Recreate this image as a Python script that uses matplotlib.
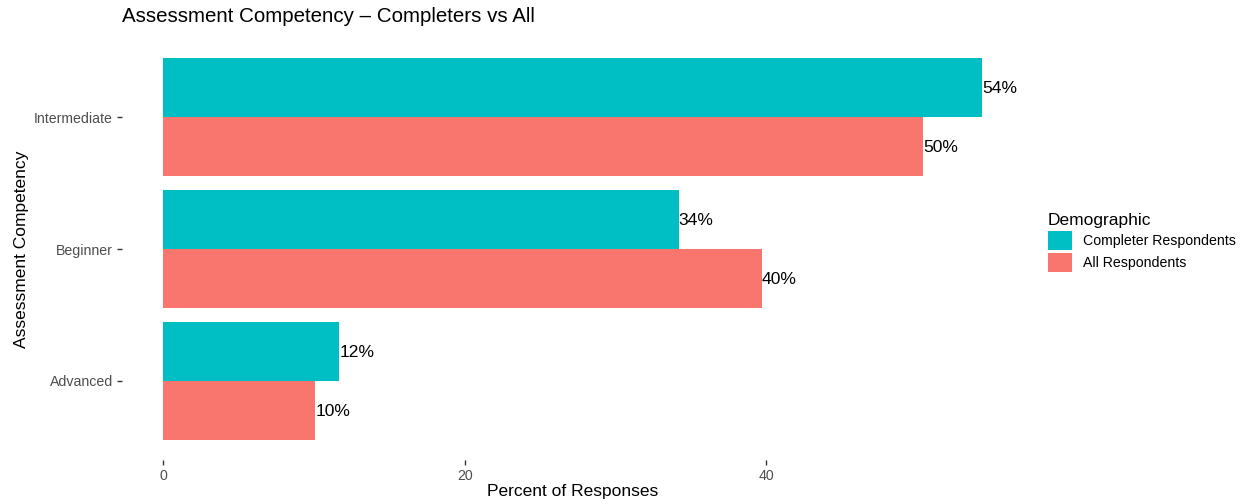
import matplotlib
matplotlib.use("Agg")
import matplotlib.pyplot as plt
import numpy as np

plt.rcParams["font.family"] = ["Liberation Sans", "DejaVu Sans"]

categories = ["Advanced", "Beginner", "Intermediate"]
completer_pct = [11.7, 34.2, 54.3]
all_pct = [10.1, 39.7, 50.4]
series_names = ["Completer Respondents", "All Respondents"]
series_colors = ["#00BFC4", "#F8766D"]
x_ticks = [0, 20, 40]

W, H = 1246, 504
fig = plt.figure(figsize=(W / 100, H / 100), dpi=100)
ax = fig.add_axes([122 / W, (H - 460) / H, (1023 - 122) / W, (460 - 38) / H])

y = np.arange(1, len(categories) + 1)
bar_h = 0.45
for values, offset, color, name in [
    (completer_pct, bar_h / 2, series_colors[0], series_names[0]),
    (all_pct, -bar_h / 2, series_colors[1], series_names[1]),
]:
    ax.barh(y + offset, values, height=bar_h, color=color, label=name)
    for yi, v in zip(y + offset, values):
        ax.text(v, yi - 0.008, f"{v:.0f}%", ha="left", va="center",
                fontsize=12.6, color="black")

max_val = max(completer_pct + all_pct)
pad = 0.05 * max_val
ax.set_xlim(-pad, max_val + pad)
ax.set_ylim(0.4, len(categories) + 0.6)
ax.set_yticks(y)
ax.set_yticklabels(categories)
ax.set_xticks(x_ticks)
for s in ax.spines.values():
    s.set_visible(False)
ax.tick_params(axis="both", length=3.5, width=1, color="#333333",
               labelcolor="#4D4D4D", labelsize=10.2, pad=3)

ax.set_xlabel("Percent of Responses", fontsize=12.5, labelpad=1)
ax.set_ylabel("Assessment Competency", fontsize=12.5, labelpad=4)
fig.text(122 / W, 1 - 17 / H, "Assessment Competency \u2013 Completers vs All",
         fontsize=14.8, ha="left", va="center")

handles, labels = ax.get_legend_handles_labels()
fig.legend(handles, labels, title="Demographic", loc="upper left",
           bbox_to_anchor=(1035 / W, 1 - 200 / H), frameon=False,
           fontsize=10.2, title_fontsize=12.5, handlelength=1.7,
           handleheight=1.65, labelspacing=0.25, handletextpad=0.8,
           alignment="left")

fig.savefig("out.png", dpi=100)
